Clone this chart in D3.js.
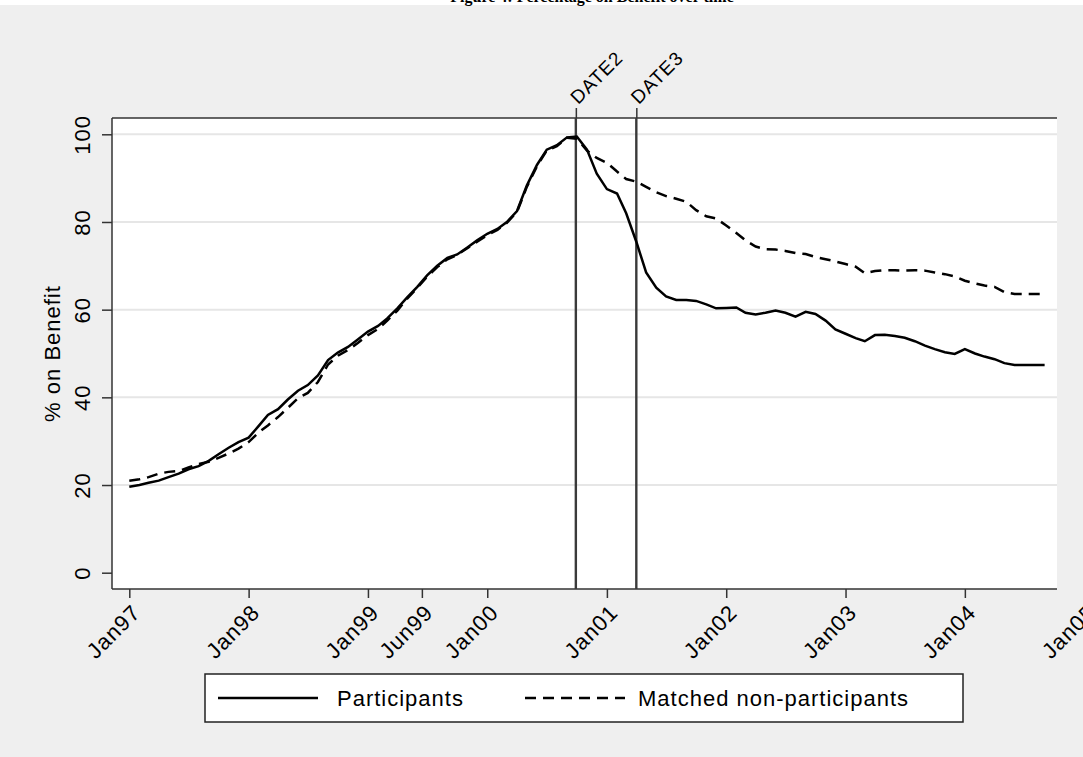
<!DOCTYPE html>
<html>
<head>
<meta charset="utf-8">
<script src="https://cdn.jsdelivr.net/npm/d3@7"></script>
<style>
html,body{margin:0;padding:0;background:#fff;}
svg{display:block;}
text{font-family:"Liberation Sans",Arial,sans-serif;}
</style>
</head>
<body>
<svg id="chart" width="1083" height="757"></svg>
<script>
// ---- data ----
const titleText = "Figure 4: Percentage on Benefit over time";
const seriesNames = ["Participants", "Matched non-participants"];
const startMonth = new Date(1997, 0, 1);
const endMonth = new Date(2004, 8, 1);
const participants = [
  19.6,20.0,20.5,21.0,21.8,22.6,23.6,24.3,25.5,27.0,28.5,29.8,
  30.8,33.5,36.0,37.3,39.5,41.5,42.8,45.0,48.5,50.2,51.5,53.2,
  55.0,56.3,58.0,60.3,62.8,65.2,67.8,70.0,71.8,72.6,74.2,75.8,
  77.3,78.4,80.0,82.5,88.3,93.0,96.5,97.5,99.3,99.5,96.5,91.0,
  87.5,86.5,82.0,75.5,68.5,65.0,63.0,62.2,62.2,62.0,61.2,60.3,
  60.4,60.5,59.3,58.9,59.3,59.8,59.3,58.4,59.5,59.0,57.5,55.5,
  54.5,53.5,52.8,54.2,54.3,54.0,53.6,52.8,51.8,51.0,50.3,49.9,
  51.0,50.0,49.3,48.7,47.8,47.4,47.4,47.4,47.4
];
const matched = [
  21.0,21.3,21.8,22.6,23.0,23.2,24.0,24.8,25.3,26.2,27.2,28.3,
  29.8,32.0,33.6,35.5,37.6,39.8,41.0,43.5,47.5,49.5,50.8,52.4,
  54.2,55.6,57.5,59.8,62.5,65.0,67.5,69.7,71.5,72.5,74.0,75.5,
  77.0,78.2,79.8,82.3,88.0,92.7,96.3,97.3,99.2,99.0,96.3,94.6,
  93.5,91.5,89.8,89.2,88.0,86.8,85.9,85.3,84.6,82.7,81.3,80.8,
  79.2,77.5,75.8,74.4,73.8,73.7,73.4,72.9,72.7,72.0,71.5,71.0,
  70.4,69.8,68.3,68.8,69.0,69.0,68.9,69.0,68.9,68.5,68.1,67.6,
  66.6,66.0,65.5,65.2,64.0,63.6,63.6,63.6,63.6
];
const xTickDates = ["1997-01-01","1998-01-01","1999-01-01","1999-06-15","2000-01-01","2001-01-01","2002-01-01","2003-01-01","2004-01-01","2005-01-01"];
const xTickLabels = ["Jan97","Jan98","Jan99","Jun99","Jan00","Jan01","Jan02","Jan03","Jan04","Jan05"];
const yTicks = [0,20,40,60,80,100];
const yGrid = [20,40,60,80,100];
const eventDates = ["2000-09-28","2001-04-01"];
const eventLabels = ["DATE2","DATE3"];
const yTitle = "% on Benefit";

// ---- layout ----
const svg = d3.select("#chart");
const P = {left:112, right:1057, top:118, bottom:589};
const FS = "22px", LS = "1px";
const parse = d3.utcParse("%Y-%m-%d");
const months = d3.timeMonth.range(startMonth, d3.timeMonth.offset(endMonth, 1));

const x = d3.scaleTime()
  .domain([new Date(1997,0,1), new Date(2005,0,1)])
  .range([129.3, 1084.5]);
const y = d3.scaleLinear().domain([0,100]).range([572.7, 134.3]);
const toLocal = s => { const d = parse(s); return new Date(d.getUTCFullYear(), d.getUTCMonth(), d.getUTCDate()); };

// background
svg.append("rect").attr("x",0).attr("y",5).attr("width",1083).attr("height",752).attr("fill","#efefef");
// clipped title (only its bottom shows in the reference)
svg.append("text").attr("x",592).attr("y",1.5).attr("text-anchor","middle")
  .style("font-family","'Liberation Serif',serif").style("font-weight","bold").style("font-size","16px")
  .attr("fill","#000").text(titleText);

// plot region
svg.append("rect").attr("x",P.left).attr("y",P.top).attr("width",P.right-P.left).attr("height",P.bottom-P.top).attr("fill","#fff");

// gridlines
svg.append("g").selectAll("line").data(yGrid).join("line")
  .attr("x1",P.left).attr("x2",P.right)
  .attr("y1",d=>y(d)).attr("y2",d=>y(d))
  .attr("stroke","#e6e6e6").attr("stroke-width",2);

// y axis
const yAxis = d3.axisLeft(y).tickValues(yTicks).tickSize(10).tickPadding(6);
const gy = svg.append("g").attr("transform",`translate(${P.left},0)`).call(yAxis);
gy.select(".domain").remove();
gy.selectAll(".tick line").attr("stroke","#333").attr("stroke-width",1.5);
gy.selectAll(".tick text")
  .attr("x",null).attr("dy",null)
  .attr("text-anchor","middle")
  .attr("transform","translate(-22,0) rotate(-90)")
  .attr("fill","#000")
  .style("font-size",FS).style("letter-spacing",LS);
svg.append("line").attr("x1",P.left).attr("x2",P.left).attr("y1",P.top).attr("y2",P.bottom).attr("stroke","#333").attr("stroke-width",1.5);

// x axis
const xAxis = d3.axisBottom(x).tickValues(xTickDates.map(toLocal))
  .tickFormat((d,i)=>xTickLabels[i]).tickSize(9);
const gx = svg.append("g").attr("transform",`translate(0,${P.bottom})`).call(xAxis);
gx.select(".domain").remove();
gx.selectAll(".tick line").attr("stroke","#333").attr("stroke-width",1.5);
gx.selectAll(".tick text")
  .attr("y",null).attr("dy",null)
  .attr("text-anchor","end")
  .attr("transform","translate(12,25) rotate(-45)")
  .attr("fill","#000")
  .style("font-size",FS).style("letter-spacing",LS);
svg.append("line").attr("x1",P.left).attr("x2",P.right).attr("y1",P.bottom).attr("y2",P.bottom).attr("stroke","#333").attr("stroke-width",1.5);

// top axis with event labels
const topAxis = d3.axisTop(x).tickValues(eventDates.map(toLocal)).tickFormat((d,i)=>eventLabels[i]).tickSize(10);
const gt = svg.append("g").attr("transform",`translate(0,${P.top})`).call(topAxis);
gt.select(".domain").remove();
gt.selectAll(".tick line").attr("stroke","#333").attr("stroke-width",1.5);
gt.selectAll(".tick text")
  .attr("y",null).attr("dy",null)
  .attr("text-anchor","start")
  .attr("transform","translate(2,-13) rotate(-45)")
  .attr("fill","#000")
  .style("font-size","19px").style("letter-spacing","1px");
svg.append("line").attr("x1",P.left).attr("x2",P.right).attr("y1",P.top).attr("y2",P.top).attr("stroke","#333").attr("stroke-width",1.5);

// event vertical lines
svg.append("g").selectAll("line").data(eventDates).join("line")
  .attr("x1",d=>x(toLocal(d))).attr("x2",d=>x(toLocal(d)))
  .attr("y1",P.top).attr("y2",P.bottom)
  .attr("stroke","#3a3a3a").attr("stroke-width",2.4);

// series
const line = d3.line().x((d,i)=>x(months[i])).y(d=>y(d));
svg.append("path").datum(matched).attr("d",line)
  .attr("fill","none").attr("stroke","#000").attr("stroke-width",2.5)
  .attr("stroke-dasharray","11,7");
svg.append("path").datum(participants).attr("d",line)
  .attr("fill","none").attr("stroke","#000").attr("stroke-width",2.5);

// y title
svg.append("text").attr("transform",`translate(60,${(P.top+P.bottom)/2}) rotate(-90)`)
  .attr("text-anchor","middle").attr("fill","#000")
  .style("font-size",FS).style("letter-spacing",LS).text(yTitle);

// legend
const L = {x:205, y:674, w:758, h:48};
svg.append("rect").attr("x",L.x).attr("y",L.y).attr("width",L.w).attr("height",L.h)
  .attr("fill","#fff").attr("stroke","#222").attr("stroke-width",1.5);
const legItems = [
  {name:seriesNames[0], x1:218, dash:null, tx:337},
  {name:seriesNames[1], x1:525, dash:"11,7", tx:638}
];
const lg = svg.append("g");
legItems.forEach(it=>{
  lg.append("line").attr("x1",it.x1).attr("x2",it.x1+100).attr("y1",L.y+L.h/2).attr("y2",L.y+L.h/2)
    .attr("stroke","#000").attr("stroke-width",2.5).attr("stroke-dasharray",it.dash);
  lg.append("text").attr("x",it.tx).attr("y",L.y+L.h/2+8).attr("fill","#000")
    .style("font-size",FS).style("letter-spacing",LS).text(it.name);
});
</script>
</body>
</html>
